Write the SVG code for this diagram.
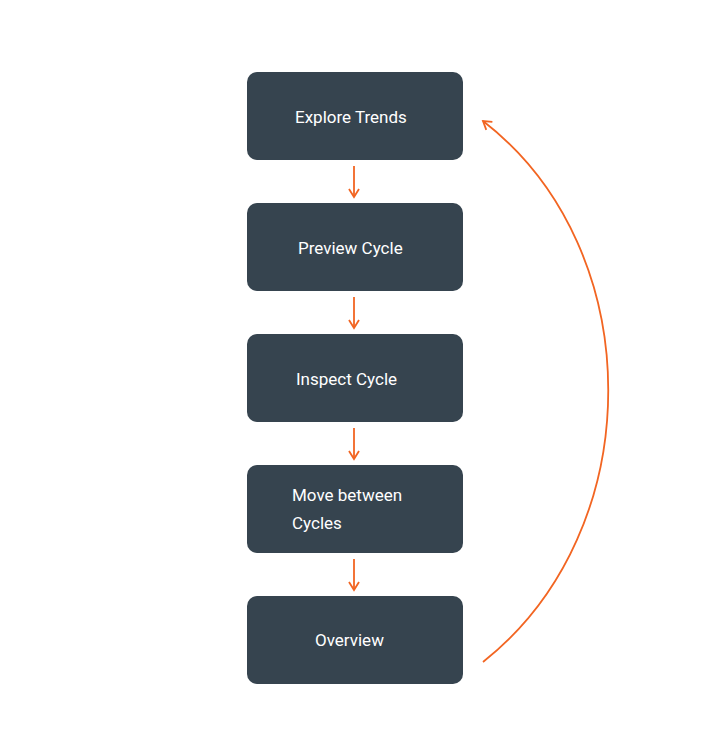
<svg xmlns="http://www.w3.org/2000/svg" width="710" height="755" viewBox="0 0 710 755">
<style>
.box{fill:#36444f}
.t{font-family:Roboto,"Liberation Sans",sans-serif;font-size:17px;fill:#fff}
.c{fill:none;stroke:#f26522;stroke-width:1.8}
</style>
<defs><marker id="a" markerWidth="12" markerHeight="12" refX="9" refY="6" orient="auto" markerUnits="userSpaceOnUse"><path d="M1,1 L9,6 L1,11" fill="none" stroke="#f26522" stroke-width="1.8"/></marker></defs>
<rect width="710" height="755" fill="#fff"/>
<g id="n1"><rect class="box" x="247" y="72" width="216" height="88" rx="10"/><text class="t" x="295" y="123">Explore Trends</text></g>
<g id="n2"><rect class="box" x="247" y="203" width="216" height="88" rx="10"/><text class="t" x="298" y="254">Preview Cycle</text></g>
<g id="n3"><rect class="box" x="247" y="334" width="216" height="88" rx="10"/><text class="t" x="296" y="385">Inspect Cycle</text></g>
<g id="n4"><rect class="box" x="247" y="465" width="216" height="88" rx="10"/><text class="t" x="292" y="501">Move between</text><text class="t" x="292" y="529">Cycles</text></g>
<g id="n5"><rect class="box" x="247" y="596" width="216" height="88" rx="10"/><text class="t" x="315" y="646">Overview</text></g>
<g id="connectors">
<path class="c" d="M354,166 V197" marker-end="url(#a)"/>
<path class="c" d="M354,297 V328" marker-end="url(#a)"/>
<path class="c" d="M354,428 V459" marker-end="url(#a)"/>
<path class="c" d="M354,559 V590" marker-end="url(#a)"/>
<path class="c" d="M483,662 C650,530 650,250 483,121" marker-end="url(#a)"/>
</g>
</svg>
